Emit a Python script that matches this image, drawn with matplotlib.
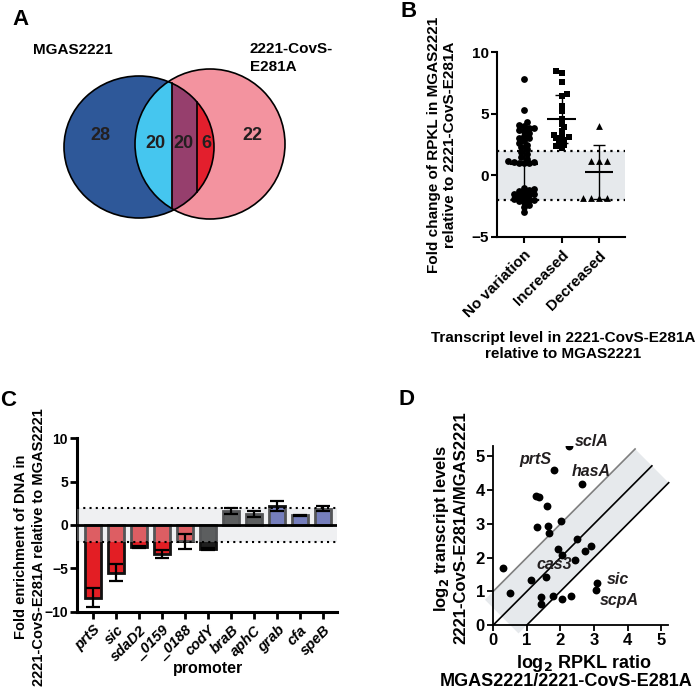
import numpy as np
import matplotlib
matplotlib.use('Agg')
import matplotlib.pyplot as plt
from matplotlib.patches import Ellipse, Circle, Polygon

plt.rcParams['font.family'] = ['Liberation Sans', 'DejaVu Sans']
plt.rcParams['font.weight'] = 'bold'
plt.rcParams['axes.labelweight'] = 'bold'
plt.rcParams['mathtext.default'] = 'bf'

W, H = 700, 691

# ---- DATA ----
venn_counts = [28, 20, 20, 6, 22]
venn_names = ['MGAS2221', '2221-CovS-\nE281A']

b_groups = ['No variation', 'Increased', 'Decreased']
b_novar = [7.8, 5.3, 4.3, 4.1, 4.0, 3.8, 3.8, 3.7, 3.6, 3.4, 3.2, 3.0, 3.0, 2.8,
           2.6, 2.5, 2.3, 2.1, 1.9, 1.7, 1.5, 1.3, 1.2, 1.1, 1.1, 1.0, 1.0, 1.0,
           -1.0, -1.1, -1.2, -1.3, -1.4, -1.5, -1.5, -1.6, -1.7, -1.8, -1.9,
           -2.0, -2.0, -2.1, -2.2, -2.4, -2.6, -3.0]
b_incr = [8.5, 8.3, 7.6, 6.6, 6.4, 5.6, 5.2, 4.6, 4.2, 3.9, 3.6, 3.3, 3.2, 3.1,
          3.0, 2.9, 2.7, 2.5, 2.4, 2.2]
b_decr = [4.0, 1.2, 1.2, 1.2, -1.8, -1.8, -1.8, -1.8]
b_mean = [0.9, 4.55, 0.3]
b_sd = [2.6, 1.95, 2.2]

c_promoters = ['prtS', 'sic', 'sdaD2', '_0159', '_0188', 'codY', 'braB',
               'aphC', 'grab', 'cfa', 'speB']
c_values = [-8.4, -5.5, -2.5, -3.3, -1.9, -2.8, 1.6, 1.25, 2.2, 1.1, 1.9]
c_errors = [1.1, 0.95, 0.1, 0.45, 0.85, 0.1, 0.35, 0.35, 0.6, 0.05, 0.25]
c_class = ['red', 'red', 'red', 'red', 'red', 'dark', 'dark', 'dark',
           'blue', 'blue', 'blue']

d_rpkl = [2.25, 1.82, 2.64, 1.27, 1.37, 1.60, 1.31, 1.64, 2.02, 1.65, 2.50,
          1.93, 2.03, 2.90, 2.72, 2.43, 0.30, 1.56, 1.11, 0.51, 1.41, 1.41,
          1.78, 2.05, 2.30, 3.09, 3.05]
d_trans = [5.30, 4.60, 4.18, 3.84, 3.81, 3.53, 2.92, 2.95, 3.07, 2.72, 2.56,
           2.25, 2.08, 2.33, 2.18, 1.93, 1.70, 1.41, 1.34, 0.94, 0.82, 0.62,
           0.87, 0.78, 0.86, 1.26, 1.04]

fig = plt.figure(figsize=(W / 100, H / 100), dpi=100, facecolor='white')


def ax_px(l, t, r, b):
    return fig.add_axes([l / W, 1 - b / H, (r - l) / W, (b - t) / H])


def ftxt(x, y, s, **kw):
    return fig.text(x / W, 1 - y / H, s, **kw)


# panel letters
for letter, x, y in [('A', 12, 9), ('B', 401, 1), ('C', 0, 390), ('D', 399, 389)]:
    ftxt(x, y, letter, fontsize=16, ha='left', va='top')

# ---- A: Venn ----
ax_a = ax_px(0, 0, 350, 240)
ax_a.set_xlim(0, 350)
ax_a.set_ylim(240, 0)
ax_a.axis('off')

lc, la, lb = (139, 147), 75, 71
rc, rr = (210, 144), 75
ax_a.add_patch(Ellipse(lc, 2 * la, 2 * lb, facecolor='#2E5899', edgecolor='none'))
ax_a.add_patch(Circle(rc, rr, facecolor='#F3939F', edgecolor='none'))


def lens_bounds(x):
    s1 = np.sqrt(np.clip(1 - ((x - lc[0]) / la) ** 2, 0, None))
    s2 = np.sqrt(np.clip(1 - ((x - rc[0]) / rr) ** 2, 0, None))
    top = np.maximum(lc[1] - lb * s1, rc[1] - rr * s2)
    bot = np.minimum(lc[1] + lb * s1, rc[1] + rr * s2)
    return top, bot


for (x0, x1), col in [((rc[0] - rr, 171.5), '#45C6EF'),
                      ((171.5, 197), '#963F6D'),
                      ((197, lc[0] + la), '#E31F2D')]:
    xs = np.linspace(x0, x1, 120)
    top, bot = lens_bounds(xs)
    pts = np.column_stack([np.r_[xs, xs[::-1]], np.r_[top, bot[::-1]]])
    ax_a.add_patch(Polygon(pts, closed=True, facecolor=col, edgecolor='none'))

ax_a.add_patch(Ellipse(lc, 2 * la, 2 * lb, facecolor='none', edgecolor='black', lw=1.2))
ax_a.add_patch(Circle(rc, rr, facecolor='none', edgecolor='black', lw=1.2))
for xv in [171.5, 197]:
    t, b = lens_bounds(np.array([xv]))
    ax_a.plot([xv, xv], [t[0], b[0]], color='black', lw=1.2)

for (x, y), n in zip([(100, 135), (155, 143), (183, 143), (206, 143), (252, 135)],
                     venn_counts):
    ax_a.text(x, y, str(n), fontsize=13, ha='center', va='center', color='#231F20')
ax_a.text(33, 50, venn_names[0], fontsize=11, ha='left', va='center')
ax_a.text(250, 58, venn_names[1], fontsize=11, ha='left', va='center', linespacing=1.3)

# ---- B: scatter ----
ax_b = ax_px(497, 52, 625, 237)
ax_b.set_xlim(-0.72, 2.69)
ax_b.set_ylim(-5, 10)
ax_b.axhspan(-2, 2, color='#E6E9EC', zorder=0, lw=0)
for yv in [2, -2]:
    ax_b.axhline(yv, color='black', ls=(0, (1, 2)), lw=1.6, zorder=1)


def swarm(ax, x0, ys, d, gap=0.62):
    ys = np.asarray(ys, float)
    disp = ax.transData.transform(np.column_stack([np.full(len(ys), x0), ys]))
    placed = []
    xs = np.empty(len(ys))
    for n, i in enumerate(np.argsort(ys)):
        px, py = disp[i]
        found = None
        for k in range(60):
            if k == 0:
                cands = [px]
            else:
                sgn = 1 if n % 2 == 0 else -1
                cands = [px + sgn * k * d * 0.4, px - sgn * k * d * 0.4]
            for cx in cands:
                if all((cx - qx) ** 2 + (py - qy) ** 2 >= (gap * d) ** 2 for qx, qy in placed):
                    found = cx
                    break
            if found is not None:
                break
        placed.append((found, py))
        xs[i] = found
    return ax.transData.inverted().transform(np.column_stack([xs, disp[:, 1]]))[:, 0]


for i, (vals, mk) in enumerate(zip([b_novar, b_incr, b_decr], ['o', 's', '^'])):
    xs = swarm(ax_b, i, vals, 6.5, gap=0.62 if i < 2 else 1.0)
    ax_b.scatter(xs, vals, s=24, marker=mk, color='black', lw=0, zorder=3)
    m, sd = b_mean[i], b_sd[i]
    ax_b.hlines(m, i - 0.38, i + 0.38, color='black', lw=1.5, zorder=4)
    ax_b.vlines(i, m - sd, m + sd, color='black', lw=1.0, zorder=4)
    ax_b.hlines([m - sd, m + sd], i - 0.17, i + 0.17, color='black', lw=1.0, zorder=4)

for s in ['top', 'right']:
    ax_b.spines[s].set_visible(False)
for s in ['left', 'bottom']:
    ax_b.spines[s].set_linewidth(1.5)
ax_b.set_yticks([-5, 0, 5, 10])
ax_b.set_xticks(range(3))
ax_b.set_xticklabels(b_groups, rotation=45, ha='right', rotation_mode='anchor',
                     fontsize=11)
ax_b.tick_params(axis='both', width=1.5, length=4, labelsize=11, pad=2)
ax_b.tick_params(axis='x', pad=4, labelsize=11)
ftxt(442, 145, 'Fold change of RPKL in MGAS2221\nrelative to 2221-CovS-E281A',
     rotation=90, ha='center', va='center', fontsize=11, linespacing=1.25)
ftxt(563, 346, 'Transcript level in 2221-CovS-E281A\nrelative to MGAS2221',
     ha='center', va='center', fontsize=11, linespacing=1.2)

# ---- C: bars ----
ax_c = ax_px(77, 438.3, 337, 611.7)
ax_c.set_xlim(-0.7, 10.6)
ax_c.set_ylim(-10, 10)
bar_colors = {'red': '#E31E24', 'dark': '#1E1E1E', 'blue': '#4450AC'}
xc = np.arange(len(c_promoters))
ax_c.bar(xc, c_values, width=0.72, color=[bar_colors[c] for c in c_class],
         edgecolor='#111111', lw=2, zorder=2)
ax_c.axhspan(-2, 2, color='#D2D6DB', alpha=0.35, zorder=4, lw=0)
ax_c.errorbar(xc, c_values, yerr=c_errors, fmt='none', ecolor='black',
              elinewidth=1.6, capsize=5, capthick=1.6, zorder=5)
ax_c.axhline(0, color='black', lw=2, zorder=6)
for yv in [2, -2]:
    ax_c.axhline(yv, color='black', ls=(0, (1, 2)), lw=1.5, zorder=6)
for s in ['top', 'right']:
    ax_c.spines[s].set_visible(False)
for s in ['left', 'bottom']:
    ax_c.spines[s].set_linewidth(2.2)
ax_c.set_yticks([-10, -5, 0, 5, 10])
ax_c.set_xticks(xc)
ax_c.set_xticklabels(c_promoters, rotation=45, ha='right', rotation_mode='anchor',
                     fontsize=10.5, style='italic')
ax_c.tick_params(axis='both', width=2, length=5, labelsize=10, pad=1.5)
ax_c.tick_params(axis='x', labelsize=10.5, pad=3)
ftxt(30, 547, 'Fold enrichment of DNA in\n2221-CovS-E281A relative to MGAS2221',
     rotation=90, ha='center', va='center', fontsize=10.5, linespacing=1.35)
ftxt(208, 668, 'promoter', ha='center', va='center', fontsize=11.5)

# ---- D: scatter vs ratio ----
ax_d = ax_px(493.3, 446.3, 668, 625)
ax_d.set_xlim(0, 5.2)
ax_d.set_ylim(0, 5.3)
t0, t1 = 0.25, 4.72
band = Polygon([(t0 - 0.5, t0 + 0.5), (t0 + 0.5, t0 - 0.5),
                (t1 + 0.5, t1 - 0.5), (t1 - 0.5, t1 + 0.5)], closed=True,
               facecolor='#E6E9EC', edgecolor='none', zorder=0, clip_on=False)
ax_d.add_patch(band)
ax_d.plot([0, t1 - 0.5], [1, t1 + 0.5], color='#7F7F7F', lw=1.2, zorder=1)
ax_d.plot([0, t1], [0, t1], color='black', lw=1.2, zorder=1)
ax_d.plot([1, t1 + 0.5], [0, t1 - 0.5], color='black', lw=1.2, zorder=1,
          clip_on=False)
ax_d.scatter(d_rpkl, d_trans, s=32, color='black', lw=0, zorder=3)
for gene, x, y, ha in [('sclA', 2.43, 5.45, 'left'), ('prtS', 1.74, 4.9, 'right'),
                       ('hasA', 2.33, 4.55, 'left'), ('cas3', 1.28, 1.8, 'left'),
                       ('sic', 3.37, 1.36, 'left'), ('scpA', 3.17, 0.74, 'left')]:
    ax_d.text(x, y, gene, fontsize=11.5, style='italic', ha=ha, va='center',
              color='#231F20', zorder=4)
for s in ['top', 'right']:
    ax_d.spines[s].set_visible(False)
for s in ['left', 'bottom']:
    ax_d.spines[s].set_linewidth(1.3)
ax_d.set_xticks(range(6))
ax_d.set_yticks(range(6))
ax_d.tick_params(axis='both', width=1.3, length=4, labelsize=12, pad=2)
ftxt(450, 528, 'log$_2$ transcript levels\n2221-CovS-E281A/MGAS2221',
     rotation=90, ha='center', va='center', fontsize=12, linespacing=1.2)
ftxt(584, 663, 'log$_2$ RPKL ratio', ha='center', va='center', fontsize=13)
ftxt(566, 682, 'MGAS2221/2221-CovS-E281A', ha='center', va='center', fontsize=13)

fig.savefig('out.png', dpi=100, facecolor='white')
